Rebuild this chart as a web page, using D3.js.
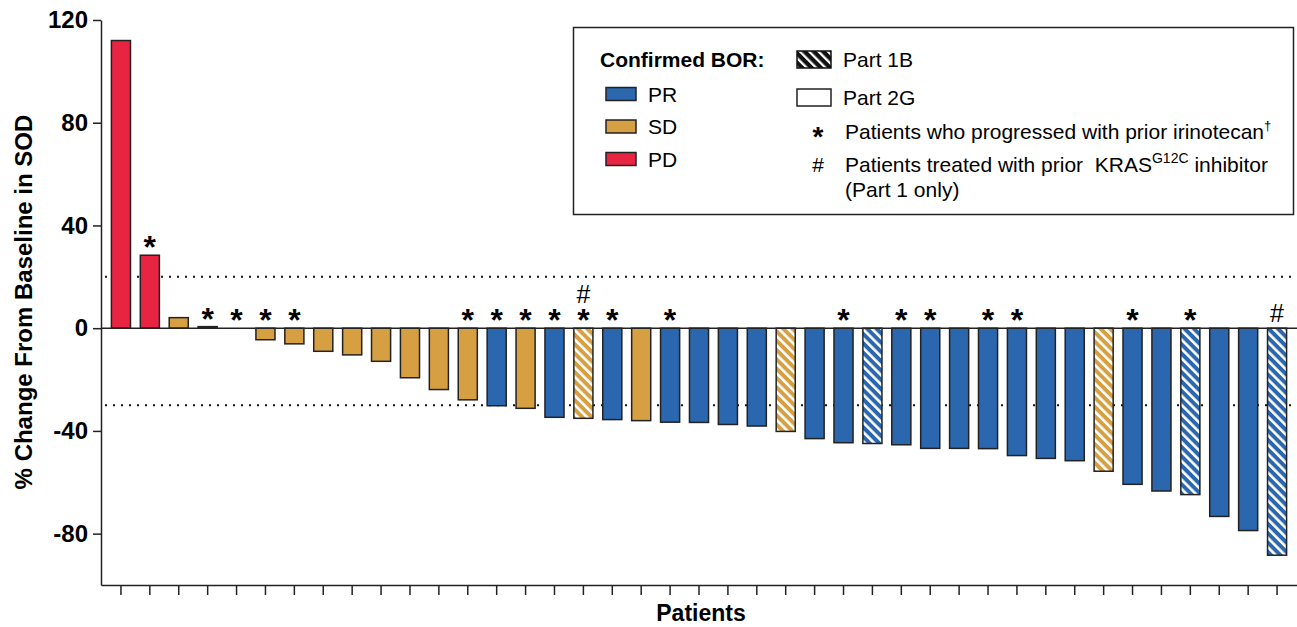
<!DOCTYPE html>
<html>
<head>
<meta charset="utf-8">
<script src="https://cdn.jsdelivr.net/npm/d3@7"></script>
<style>
  body { margin: 0; background: #fff; }
  svg { display: block; font-family: "Liberation Sans", Arial, sans-serif; }
</style>
</head>
<body>
<svg id="waterfall"></svg>
<script>
// patients in plotted order (best % change in SOD, sorted)
var patients = d3.range(1, 42);
var change = [112, 28.4, 4.1, 0.6, 0, -4.5, -6.1, -9.0, -10.4, -12.9, -19.3, -23.9, -27.9,
  -30.2, -31.2, -34.7, -35.1, -35.6, -36.0, -36.6, -36.7, -37.5, -38.1, -40.2, -43.0,
  -44.6, -44.9, -45.4, -46.8, -46.8, -46.9, -49.6, -50.7, -51.6, -55.7, -60.8, -63.4,
  -64.8, -73.3, -78.8, -88.4];
var bor = ["PD","PD","SD","SD","SD","SD","SD","SD","SD","SD","SD","SD","SD","PR","SD","PR",
  "SD","PR","SD","PR","PR","PR","PR","SD","PR","PR","PR","PR","PR","PR","PR","PR","PR","PR",
  "SD","PR","PR","PR","PR","PR","PR"];
var part1B = [17, 24, 27, 35, 38, 41];
var priorIrinotecan = [2, 4, 5, 6, 7, 13, 14, 15, 16, 17, 18, 20, 26, 28, 29, 31, 32, 36, 38];
var priorKras = [17, 41];
var yTicks = [-80, -40, 0, 40, 80, 120];
var thresholds = [20, -30];
var borLevels = ["PR", "SD", "PD"];

var colors = { PR: "#2a67ae", SD: "#d6a042", PD: "#e82443" };

var W = 1297, H = 627;
var svg = d3.select("#waterfall").attr("width", W).attr("height", H);

var x = d3.scaleBand().domain(patients).range([101, 1297])
    .paddingInner(0.34).paddingOuter(0.36);
var y = d3.scaleLinear().domain([-100, 120]).range([585, 20]);

// stripe patterns for Part 1B
var defs = svg.append("defs");
function stripes(id, bg, period, white) {
  var p = defs.append("pattern")
      .attr("id", id)
      .attr("patternUnits", "userSpaceOnUse")
      .attr("width", period).attr("height", period)
      .attr("patternTransform", "rotate(-45)");
  p.append("rect").attr("width", period).attr("height", period).attr("fill", bg);
  p.append("rect").attr("width", white).attr("height", period).attr("fill", "#fff");
}
stripes("hatch_PR", colors.PR, 6.6, 2.6);
stripes("hatch_SD", colors.SD, 6.6, 2.6);
stripes("hatch_legend", "#111", 6.6, 2.3);

// reference lines (behind bars)
svg.append("g").selectAll("line")
  .data(thresholds)
  .enter().append("line")
    .attr("x1", 105).attr("x2", 1297)
    .attr("y1", function(d) { return y(d); })
    .attr("y2", function(d) { return y(d); })
    .attr("stroke", "#111")
    .attr("stroke-width", 2)
    .attr("stroke-dasharray", "2,6");

// bars
svg.append("g").selectAll("rect")
  .data(patients)
  .enter().append("rect")
    .attr("x", function(d) { return x(d); })
    .attr("width", x.bandwidth())
    .attr("y", function(d, i) { return y(Math.max(0, change[i])); })
    .attr("height", function(d, i) { return Math.abs(y(change[i]) - y(0)); })
    .attr("fill", function(d, i) {
      return part1B.indexOf(d) >= 0 ? "url(#hatch_" + bor[i] + ")" : colors[bor[i]];
    })
    .attr("stroke", "#222")
    .attr("stroke-width", 1.5)
    .style("display", function(d, i) { return change[i] === 0 ? "none" : null; });

// zero line
svg.append("line")
  .attr("x1", 101).attr("x2", 1297)
  .attr("y1", y(0)).attr("y2", y(0))
  .attr("stroke", "#222").attr("stroke-width", 1.5);

// axes
var yAxis = svg.append("g")
  .attr("transform", "translate(101,0)")
  .call(d3.axisLeft(y).tickValues(yTicks).tickSize(8).tickSizeOuter(0).tickPadding(5)
    .tickFormat(function(d) { return String(d); }));
var xAxis = svg.append("g")
  .attr("transform", "translate(0,585)")
  .call(d3.axisBottom(x).tickSize(10).tickSizeOuter(0).tickFormat(""));
[yAxis, xAxis].forEach(function(a) {
  a.select(".domain").attr("stroke", "#222").attr("stroke-width", 1.5);
  a.selectAll(".tick line").attr("stroke", "#222").attr("stroke-width", 1.5);
});
yAxis.selectAll(".tick text")
  .attr("fill", "#000")
  .style("font-size", "24px")
  .style("font-weight", "bold")
  .style("font-family", "'Liberation Sans', Arial, sans-serif");

// axis titles
svg.append("text")
  .attr("transform", "translate(32,302) rotate(-90)")
  .attr("text-anchor", "middle")
  .style("font-size", "24px").style("font-weight", "bold")
  .text("% Change From Baseline in SOD");
svg.append("text")
  .attr("x", 701).attr("y", 621)
  .attr("text-anchor", "middle")
  .style("font-size", "23px").style("font-weight", "bold")
  .text("Patients");

// annotation marks above bars
var marks = svg.append("g").attr("text-anchor", "middle");
marks.selectAll("text.star")
  .data(priorIrinotecan)
  .enter().append("text")
    .attr("class", "star")
    .attr("x", function(d) { return x(d) + x.bandwidth() / 2; })
    .attr("y", function(d) { return y(Math.max(0, change[d - 1])) - 15 + 18; })
    .style("font-size", "32px").style("font-weight", "bold")
    .text("*");
marks.selectAll("text.hash")
  .data(priorKras)
  .enter().append("text")
    .attr("class", "hash")
    .attr("x", function(d) { return x(d) + x.bandwidth() / 2; })
    .attr("y", function(d) {
      var top = y(Math.max(0, change[d - 1])) - 15;
      if (priorIrinotecan.indexOf(d) >= 0) top -= 19;
      return top + 9;
    })
    .style("font-size", "25px")
    .text("#");

// legend
var lg = svg.append("g").style("font-size", "21px");
lg.append("rect")
  .attr("x", 573.5).attr("y", 27.5).attr("width", 720).attr("height", 187)
  .attr("fill", "#fff").attr("stroke", "#222").attr("stroke-width", 1.5);
lg.append("text").attr("x", 600).attr("y", 67)
  .style("font-weight", "bold").text("Confirmed BOR:");

var borItem = lg.selectAll("g.bor")
  .data(borLevels)
  .enter().append("g")
    .attr("class", "bor")
    .attr("transform", function(d, i) { return "translate(606," + (94 + i * 32.5) + ")"; });
borItem.append("rect")
  .attr("x", 0).attr("y", -6.5).attr("width", 30).attr("height", 13)
  .attr("fill", function(d) { return colors[d]; })
  .attr("stroke", "#222").attr("stroke-width", 1.5);
borItem.append("text").attr("x", 42).attr("y", 7.5).text(function(d) { return d; });

lg.append("rect")
  .attr("x", 797).attr("y", 51).attr("width", 34).attr("height", 17)
  .attr("fill", "url(#hatch_legend)").attr("stroke", "#111").attr("stroke-width", 1.5);
lg.append("text").attr("x", 843).attr("y", 67).text("Part 1B");
lg.append("rect")
  .attr("x", 797).attr("y", 89).attr("width", 34).attr("height", 17)
  .attr("fill", "#fff").attr("stroke", "#222").attr("stroke-width", 1.5);
lg.append("text").attr("x", 843).attr("y", 105).text("Part 2G");

lg.append("text").attr("x", 818).attr("y", 146).attr("text-anchor", "middle")
  .style("font-size", "28px").style("font-weight", "bold").text("*");
var t1 = lg.append("text").attr("x", 845).attr("y", 139);
t1.append("tspan").text("Patients who progressed with prior irinotecan");
t1.append("tspan").attr("dy", -9).style("font-size", "13px").text("\u2020");

lg.append("text").attr("x", 818).attr("y", 172).attr("text-anchor", "middle")
  .style("font-size", "21px").text("#");
var t2 = lg.append("text").attr("x", 845).attr("y", 172);
t2.append("tspan").text("Patients treated with prior\u00a0 KRAS");
t2.append("tspan").attr("dy", -9).style("font-size", "14px").text("G12C");
t2.append("tspan").attr("dy", 9).text(" inhibitor");
lg.append("text").attr("x", 845).attr("y", 197).text("(Part 1 only)");
</script>
</body>
</html>
